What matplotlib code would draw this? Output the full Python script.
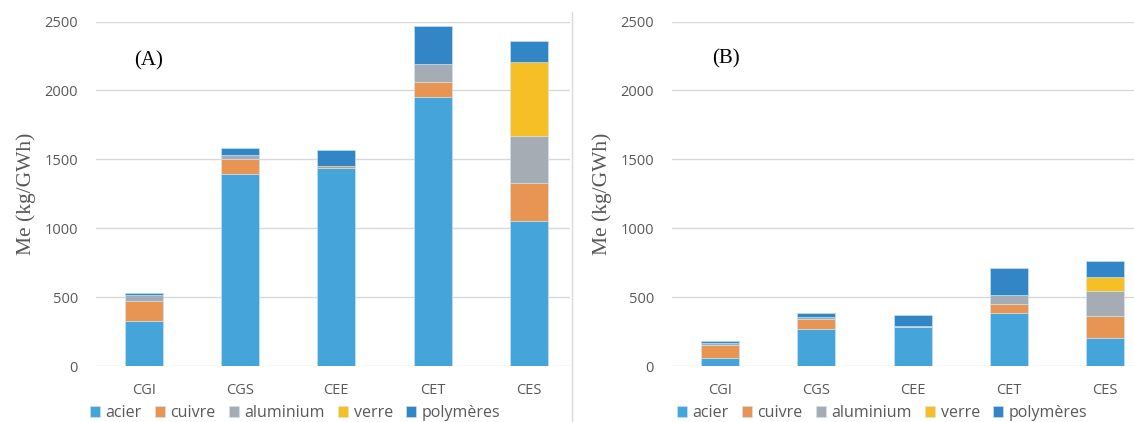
import matplotlib
matplotlib.use("Agg")
import matplotlib.pyplot as plt
from matplotlib.lines import Line2D
import numpy as np

categories = ['CGI', 'CGS', 'CEE', 'CET', 'CES']
series_names = ['acier', 'cuivre', 'aluminium', 'verre', 'polymères']
colors = ['#45A5DB', '#E89453', '#A6ACB3', '#F6BF25', '#3386C6']

# Panel (A)
acier_A = [324, 1396, 1440, 1949, 1051]
cuivre_A = [147, 104, 12, 111, 275]
aluminium_A = [43, 34, 0, 133, 343]
verre_A = [0, 0, 0, 0, 539]
polymeres_A = [15, 46, 113, 276, 152]

# Panel (B)
acier_B = [58, 272, 283, 386, 205]
cuivre_B = [91, 71, 3, 63, 159]
aluminium_B = [20, 9, 6, 68, 177]
verre_B = [0, 0, 0, 0, 106]
polymeres_B = [12, 34, 80, 193, 114]

yticks = [0, 500, 1000, 1500, 2000, 2500]

W, H = 1134, 422
fig = plt.figure(figsize=(W / 100, H / 100), dpi=100)

gray = '#595959'
sans = ['Open Sans', 'DejaVu Sans']
serif = ['Liberation Serif', 'DejaVu Serif']

def draw(ax, data, label, xmax, label_xy):
    x = np.arange(len(categories))
    bottom = np.zeros(len(categories))
    handles = []
    for name, vals, c in zip(series_names, data, colors):
        v = np.array(vals, dtype=float)
        h = ax.bar(x, v, 0.395, bottom=bottom, color=c, label=name,
                   edgecolor='#cfe6f5', linewidth=0.4)
        handles.append(h)
        bottom += v
    ax.set_xlim(-0.5, xmax)
    ax.set_ylim(0, 2500)
    ax.set_yticks(yticks)
    ax.set_xticks(x)
    ax.set_xticklabels(categories)
    for s in ax.spines.values():
        s.set_visible(False)
    ax.yaxis.grid(True, color='#D9D9D9', linewidth=1)
    ax.set_axisbelow(True)
    ax.tick_params(axis='both', length=0, colors=gray, labelsize=10.5)
    ax.tick_params(axis='y', pad=13)
    ax.tick_params(axis='x', pad=12)
    for t in ax.get_xticklabels() + ax.get_yticklabels():
        t.set_fontfamily(sans)
    ax.set_ylabel('Me (kg/GWh)', fontfamily=serif, fontsize=15.5, color=gray, labelpad=6)
    ax.text(label_xy[0], label_xy[1], label, transform=ax.transAxes,
            fontfamily=serif, fontsize=15, color='black', ha='center', va='center')
    return handles

bottom_f = 56 / H
height_f = (366 - 21.5) / H

axA = fig.add_axes([96 / W, bottom_f, (570 - 96) / W, height_f])
axB = fig.add_axes([672 / W, bottom_f, (W - 672) / W, height_f])

hA = draw(axA, [acier_A, cuivre_A, aluminium_A, verre_A, polymeres_A], '(A)', 4.43,
          ((149 - 96) / 474, (366 - 61) / 344.5))
hB = draw(axB, [acier_B, cuivre_B, aluminium_B, verre_B, polymeres_B], '(B)', 4.3,
          ((726 - 672) / 462, (366 - 59) / 344.5))

for ax, cx in [(axA, (295 - 96) / 474), (axB, (882 - 672) / 462)]:
    leg = ax.legend(loc='center', bbox_to_anchor=(cx, -0.137), ncol=5, frameon=False,
                    handlelength=0.65, handleheight=0.65, handletextpad=0.35,
                    columnspacing=0.8, borderaxespad=0, borderpad=0,
                    prop={'family': sans, 'size': 11.5})
    for t in leg.get_texts():
        t.set_color(gray)

fig.add_artist(Line2D([571.5 / W, 571.5 / W], [0, 1 - 12 / H], color='#D9D9D9',
                      linewidth=1, transform=fig.transFigure))

fig.savefig('out.png', dpi=100, facecolor='white')
